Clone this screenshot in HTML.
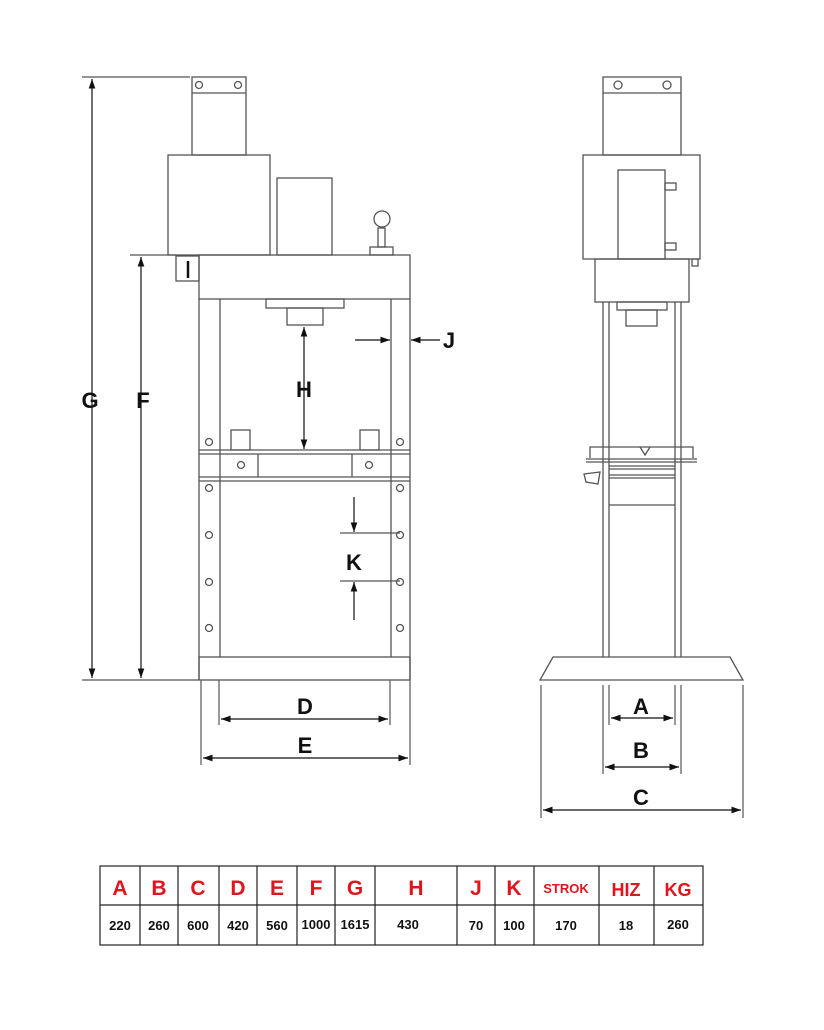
<!DOCTYPE html>
<html><head><meta charset="utf-8"><style>
html,body{margin:0;padding:0;background:#fff;}
svg{display:block}
.l{fill:none;stroke:#555;stroke-width:1.3}
.d{stroke:#111;stroke-width:1.2;fill:none}
.t{font-family:"Liberation Sans",sans-serif;font-weight:bold;font-size:22px;fill:#111;text-anchor:middle}
.r{font-family:"Liberation Sans",sans-serif;font-weight:bold;font-size:21px;fill:#e0141c;text-anchor:middle}
.n{font-family:"Liberation Sans",sans-serif;font-weight:bold;font-size:13px;fill:#111;text-anchor:middle}
</style></head><body>
<svg width="824" height="1030" viewBox="0 0 824 1030" xmlns="http://www.w3.org/2000/svg">
<defs>
<marker id="a" viewBox="0 0 10 10" refX="10" refY="5" markerWidth="8" markerHeight="8" orient="auto-start-reverse"><path d="M0,1.5 L10,5 L0,8.5z" fill="#111"/></marker>
</defs>
<!-- LEFT VIEW -->
<g class="l">
<rect x="192" y="77" width="54" height="78"/><line x1="192" y1="93" x2="246" y2="93"/>
<circle cx="199" cy="85" r="3.5"/><circle cx="238" cy="85" r="3.5"/>
<rect x="168" y="155" width="102" height="100"/>
<rect x="277" y="178" width="55" height="77"/>
<rect x="370" y="247" width="23" height="8"/><rect x="378" y="228" width="7" height="19"/><circle cx="382" cy="219" r="8"/>
<rect x="176" y="256" width="23" height="25"/>
<rect x="199" y="255" width="211" height="44"/>
<rect x="266" y="299" width="78" height="9"/><rect x="287" y="308" width="36" height="17"/>
<line x1="199" y1="299" x2="199" y2="680"/><line x1="220" y1="299" x2="220" y2="657"/>
<line x1="391" y1="299" x2="391" y2="657"/><line x1="410" y1="299" x2="410" y2="680"/>
<rect x="231" y="430" width="19" height="20"/><rect x="360" y="430" width="19" height="20"/>
<line x1="199" y1="450" x2="410" y2="450"/><line x1="199" y1="454" x2="410" y2="454"/>
<line x1="199" y1="477" x2="410" y2="477"/><line x1="199" y1="481" x2="410" y2="481"/>
<line x1="258" y1="454" x2="258" y2="477"/><line x1="352" y1="454" x2="352" y2="477"/>
<circle cx="241" cy="465" r="3.5"/><circle cx="369" cy="465" r="3.5"/>
<circle cx="209" cy="442" r="3.5"/><circle cx="400" cy="442" r="3.5"/>
<circle cx="209" cy="488" r="3.5"/><circle cx="400" cy="488" r="3.5"/>
<circle cx="209" cy="535" r="3.5"/><circle cx="400" cy="535" r="3.5"/>
<circle cx="209" cy="582" r="3.5"/><circle cx="400" cy="582" r="3.5"/>
<circle cx="209" cy="628" r="3.5"/><circle cx="400" cy="628" r="3.5"/>
<rect x="199" y="657" width="211" height="23"/>
</g>
<line x1="188" y1="261" x2="188" y2="278" stroke="#111" stroke-width="2.5"/>
<g class="d">
<line x1="82" y1="77" x2="190" y2="77" stroke="#555"/><line x1="82" y1="680" x2="199" y2="680" stroke="#555"/>
<line x1="92" y1="79" x2="92" y2="678" marker-start="url(#a)" marker-end="url(#a)"/>
<line x1="130" y1="255" x2="176" y2="255" stroke="#555"/>
<line x1="141" y1="257" x2="141" y2="678" marker-start="url(#a)" marker-end="url(#a)"/>
<line x1="304" y1="327" x2="304" y2="449" marker-start="url(#a)" marker-end="url(#a)"/>
<line x1="355" y1="340" x2="390" y2="340" marker-end="url(#a)"/>
<line x1="440" y1="340" x2="411" y2="340" marker-end="url(#a)"/>
<line x1="354" y1="497" x2="354" y2="532" marker-end="url(#a)"/>
<line x1="354" y1="620" x2="354" y2="582" marker-end="url(#a)"/>
<line x1="340" y1="533" x2="400" y2="533" stroke="#555"/><line x1="340" y1="581" x2="400" y2="581" stroke="#555"/>
<line x1="219" y1="680" x2="219" y2="725" stroke="#555"/><line x1="390" y1="680" x2="390" y2="725" stroke="#555"/>
<line x1="221" y1="719" x2="388" y2="719" marker-start="url(#a)" marker-end="url(#a)"/>
<line x1="201" y1="680" x2="201" y2="765" stroke="#555"/><line x1="410" y1="680" x2="410" y2="765" stroke="#555"/>
<line x1="203" y1="758" x2="408" y2="758" marker-start="url(#a)" marker-end="url(#a)"/>
</g>
<text class="t" x="90" y="408">G</text><text class="t" x="143" y="408">F</text>
<text class="t" x="304" y="397">H</text><text class="t" x="449" y="348">J</text>
<text class="t" x="354" y="570">K</text><text class="t" x="305" y="714">D</text><text class="t" x="305" y="753">E</text>
<!-- RIGHT VIEW -->
<g class="l">
<rect x="603" y="77" width="78" height="78"/><line x1="603" y1="93" x2="681" y2="93"/>
<circle cx="618" cy="85" r="4"/><circle cx="667" cy="85" r="4"/>
<rect x="583" y="155" width="117" height="104"/>
<rect x="618" y="170" width="47" height="89"/>
<rect x="665" y="183" width="11" height="7"/><rect x="665" y="243" width="11" height="7"/>
<rect x="692" y="259" width="6" height="7"/>
<rect x="595" y="259" width="94" height="43"/>
<rect x="617" y="302" width="50" height="8"/><rect x="626" y="310" width="31" height="16"/>
<line x1="603" y1="302" x2="603" y2="657"/><line x1="609" y1="302" x2="609" y2="657"/>
<line x1="675" y1="302" x2="675" y2="657"/><line x1="681" y1="302" x2="681" y2="657"/>
<polyline points="590,458 590,447 693,447 693,458"/>
<polyline points="640,447 645,455 650,447"/>
<line x1="586" y1="459" x2="697" y2="459"/><line x1="586" y1="462" x2="697" y2="462"/>
<line x1="609" y1="466" x2="675" y2="466"/><line x1="609" y1="469" x2="675" y2="469"/>
<line x1="609" y1="475" x2="675" y2="475"/><line x1="609" y1="478" x2="675" y2="478"/>
<line x1="609" y1="505" x2="675" y2="505"/>
<polygon points="584,474 600,472 598,484 586,482"/>
<polygon points="553,657 730,657 743,680 540,680"/>
</g>
<g class="d">
<line x1="609" y1="685" x2="609" y2="725" stroke="#555"/><line x1="675" y1="685" x2="675" y2="725" stroke="#555"/>
<line x1="611" y1="718" x2="673" y2="718" marker-start="url(#a)" marker-end="url(#a)"/>
<line x1="603" y1="685" x2="603" y2="774" stroke="#555"/><line x1="681" y1="685" x2="681" y2="774" stroke="#555"/>
<line x1="605" y1="767" x2="679" y2="767" marker-start="url(#a)" marker-end="url(#a)"/>
<line x1="541" y1="685" x2="541" y2="818" stroke="#555"/><line x1="743" y1="685" x2="743" y2="818" stroke="#555"/>
<line x1="543" y1="810" x2="741" y2="810" marker-start="url(#a)" marker-end="url(#a)"/>
</g>
<text class="t" x="641" y="714">A</text><text class="t" x="641" y="758">B</text><text class="t" x="641" y="805">C</text>
<!-- TABLE -->
<g stroke="#222" stroke-width="1.2" fill="none">
<rect x="100" y="866" width="603" height="79"/>
<line x1="100" y1="905" x2="703" y2="905"/>
<line x1="140" y1="866" x2="140" y2="945"/><line x1="178" y1="866" x2="178" y2="945"/>
<line x1="219" y1="866" x2="219" y2="945"/><line x1="257" y1="866" x2="257" y2="945"/>
<line x1="297" y1="866" x2="297" y2="945"/><line x1="335" y1="866" x2="335" y2="945"/>
<line x1="375" y1="866" x2="375" y2="945"/><line x1="457" y1="866" x2="457" y2="945"/>
<line x1="495" y1="866" x2="495" y2="945"/><line x1="534" y1="866" x2="534" y2="945"/>
<line x1="599" y1="866" x2="599" y2="945"/><line x1="654" y1="866" x2="654" y2="945"/>
</g>
<g class="r">
<text x="120" y="895">A</text><text x="159" y="895">B</text><text x="198" y="895">C</text>
<text x="238" y="895">D</text><text x="277" y="895">E</text><text x="316" y="895">F</text>
<text x="355" y="895">G</text><text x="416" y="895">H</text><text x="476" y="895">J</text>
<text x="514" y="895">K</text><text x="566" y="893" style="font-size:13px">STROK</text>
<text x="626" y="896" style="font-size:18px">HIZ</text><text x="678" y="896" style="font-size:18px">KG</text>
</g>
<g class="n">
<text x="120" y="930">220</text><text x="159" y="930">260</text><text x="198" y="930">600</text>
<text x="238" y="930">420</text><text x="277" y="930">560</text><text x="316" y="929">1000</text>
<text x="355" y="929">1615</text><text x="408" y="929">430</text><text x="476" y="930">70</text>
<text x="514" y="930">100</text><text x="566" y="930">170</text><text x="626" y="930">18</text>
<text x="678" y="929">260</text>
</g>
</svg>
</body></html>
